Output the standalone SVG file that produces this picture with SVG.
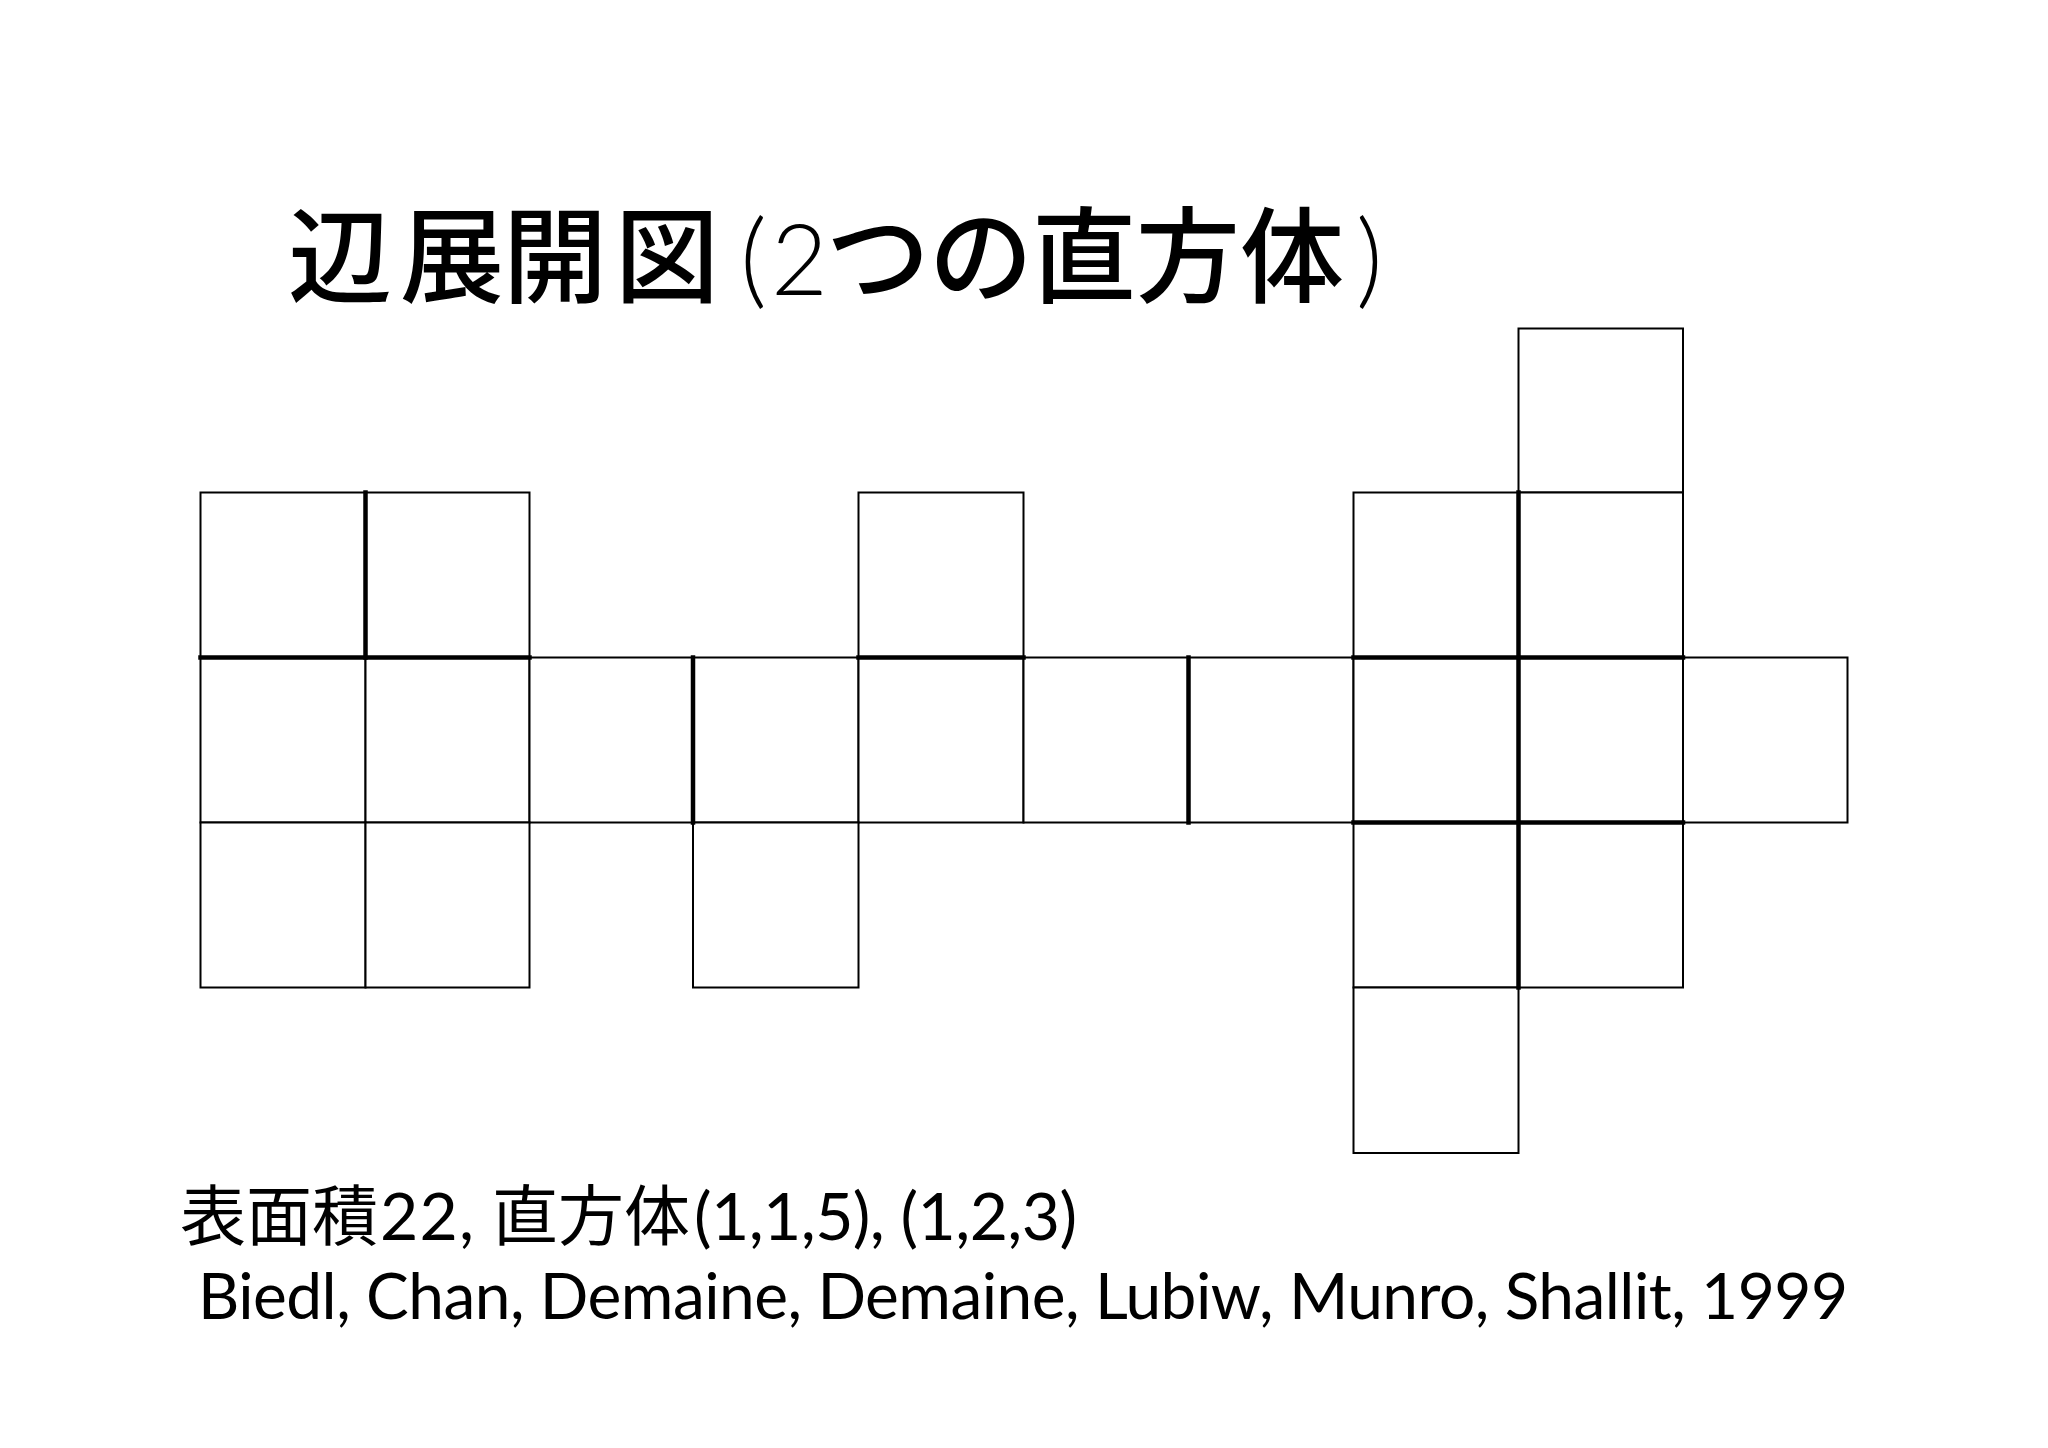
<svg xmlns="http://www.w3.org/2000/svg" width="2048" height="1448" viewBox="0 0 2048 1448">
<style>
.cell{fill:#fff;stroke:#000;stroke-width:2}
.cut{stroke:#000;stroke-width:4.5;stroke-linecap:square;fill:none}
.t{font-family:Lato,"Noto Sans CJK JP",sans-serif;fill:#000}
.cjk{font-family:"Noto Sans CJK JP",sans-serif;font-weight:500}
.lat{font-family:Lato,sans-serif;font-weight:300}
</style>
<rect width="2048" height="1448" fill="#fff"/>
<text id="title" class="t" font-size="104" y="295"><tspan class="cjk" x="288 400 503 615">辺展開図</tspan><tspan class="lat" x="740">(</tspan><tspan class="lat" x="771" font-size="98">2</tspan><tspan class="cjk" x="826 929 1032 1136 1240">つの直方体</tspan><tspan class="lat" x="1356">)</tspan></text>
<g id="net">
<g id="row0"><rect class="cell" x="1518.5" y="328.5" width="164.5" height="164"/></g>
<g id="row1">
<rect class="cell" x="200.5" y="492.5" width="165" height="165"/>
<rect class="cell" x="365.5" y="492.5" width="164" height="165"/>
<rect class="cell" x="858.5" y="492.5" width="165" height="165"/>
<rect class="cell" x="1353.5" y="492.5" width="165" height="165"/>
<rect class="cell" x="1518.5" y="492.5" width="164.5" height="165"/>
</g>
<g id="row2">
<rect class="cell" x="200.5" y="657.5" width="165" height="165"/>
<rect class="cell" x="365.5" y="657.5" width="164" height="165"/>
<rect class="cell" x="529.5" y="657.5" width="163.5" height="165"/>
<rect class="cell" x="693" y="657.5" width="165.5" height="165"/>
<rect class="cell" x="858.5" y="657.5" width="165" height="165"/>
<rect class="cell" x="1023.5" y="657.5" width="165" height="165"/>
<rect class="cell" x="1188.5" y="657.5" width="165" height="165"/>
<rect class="cell" x="1353.5" y="657.5" width="165" height="165"/>
<rect class="cell" x="1518.5" y="657.5" width="164.5" height="165"/>
<rect class="cell" x="1683" y="657.5" width="164.5" height="165"/>
</g>
<g id="row3">
<rect class="cell" x="200.5" y="822.5" width="165" height="165"/>
<rect class="cell" x="365.5" y="822.5" width="164" height="165"/>
<rect class="cell" x="693" y="822.5" width="165.5" height="165"/>
<rect class="cell" x="1353.5" y="822.5" width="165" height="165"/>
<rect class="cell" x="1518.5" y="822.5" width="164.5" height="165"/>
</g>
<g id="row4"><rect class="cell" x="1353.5" y="987.5" width="165" height="165.5"/></g>
</g>
<g id="connectors">
<line class="cut" x1="365.5" y1="492.5" x2="365.5" y2="657.5"/>
<line class="cut" x1="200.5" y1="657.5" x2="529.5" y2="657.5"/>
<line class="cut" x1="693" y1="657.5" x2="693" y2="822.5"/>
<line class="cut" x1="858.5" y1="657.5" x2="1023.5" y2="657.5"/>
<line class="cut" x1="1188.5" y1="657.5" x2="1188.5" y2="822.5"/>
<line class="cut" x1="1518.5" y1="492.5" x2="1518.5" y2="987.5"/>
<line class="cut" x1="1353.5" y1="657.5" x2="1683" y2="657.5"/>
<line class="cut" x1="1353.5" y1="822.5" x2="1683" y2="822.5"/>
</g>
<text id="caption1" class="t" font-size="66" y="1240"><tspan x="180">表面積</tspan><tspan x="380" textLength="94">22,</tspan><tspan x="492">直方体</tspan><tspan x="694" textLength="383">(1,1,5), (1,2,3)</tspan></text>
<text id="caption2" class="t" font-size="64" x="198" y="1319" textLength="1650">Biedl, Chan, Demaine, Demaine, Lubiw, Munro, Shallit, 1999</text>
</svg>
